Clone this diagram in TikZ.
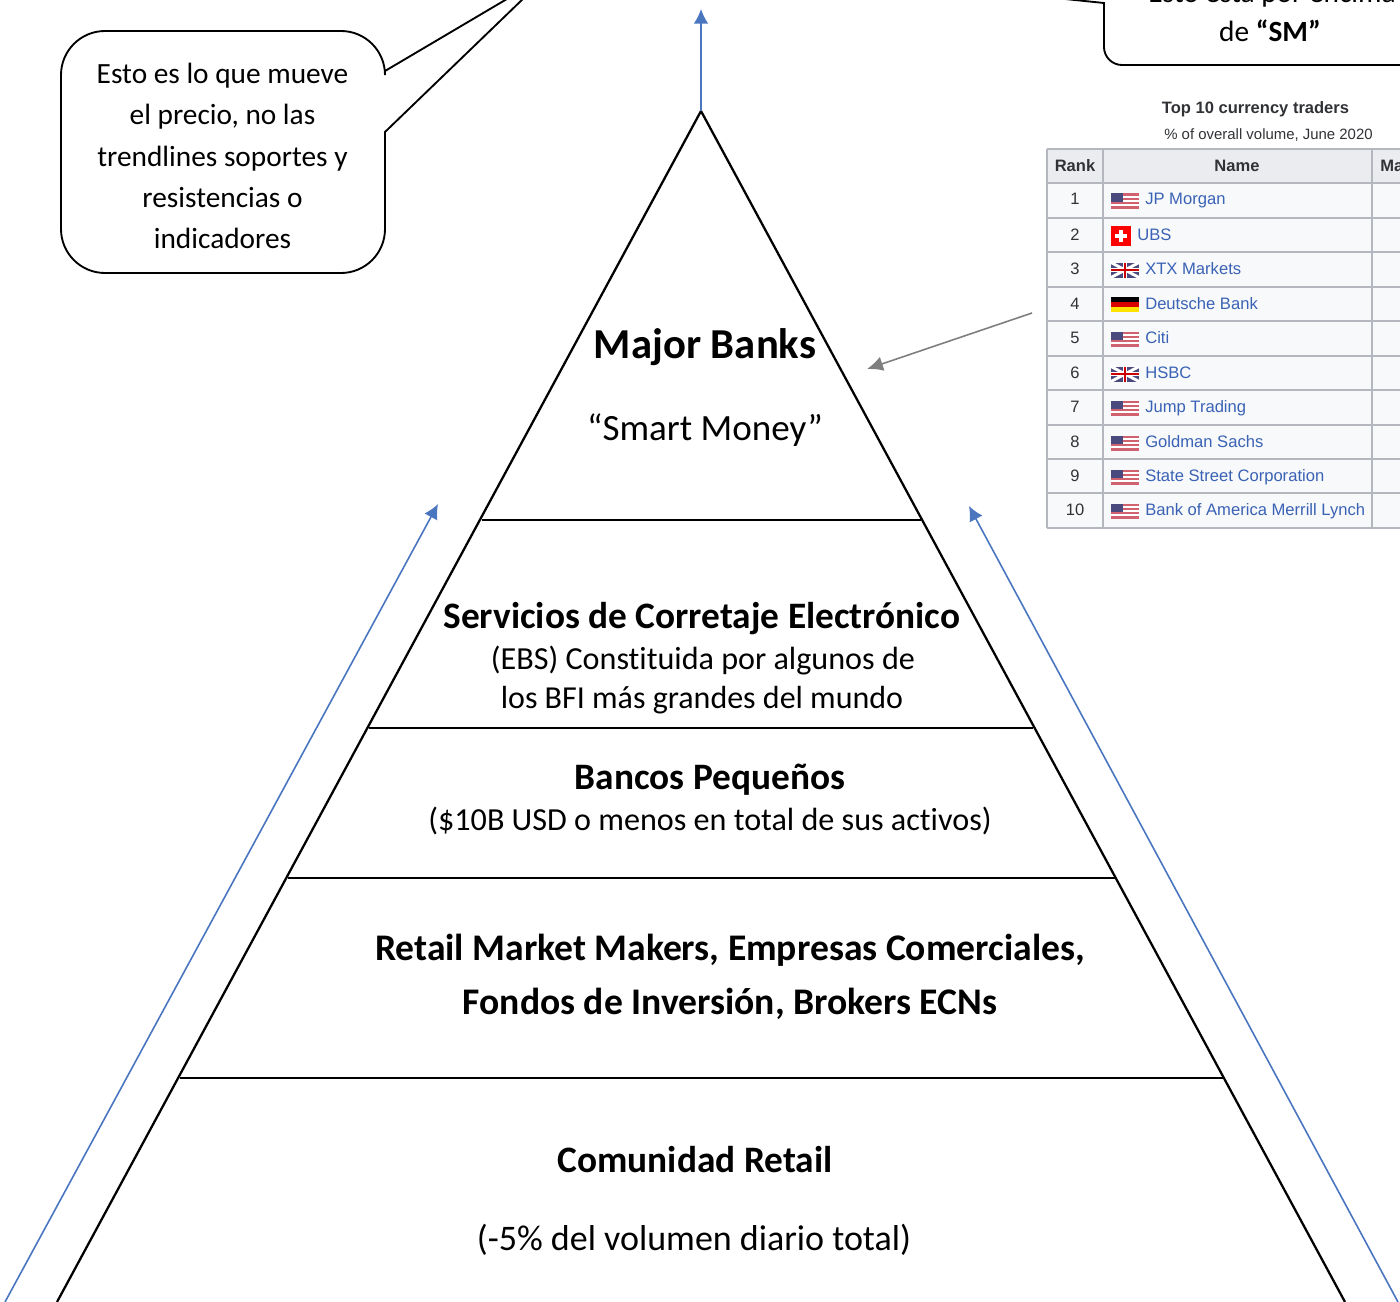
\documentclass[tikz,border=0pt]{standalone}
\usepackage{fontspec}
\usepackage{tikz}
\usetikzlibrary{arrows.meta}
\setmainfont[Ligatures=NoCommon]{Carlito}
\newfontfamily\wikifont{Liberation Sans}
\definecolor{arrowblue}{HTML}{4A76C0}
\definecolor{arrowgray}{HTML}{7F7F7F}
\definecolor{wikiline}{HTML}{B4B8BE}
\definecolor{wikihead}{HTML}{EAECF0}
\definecolor{wikicell}{HTML}{F8F9FA}
\definecolor{wikilink}{HTML}{3A62B5}
\definecolor{wikitext}{HTML}{303236}
\definecolor{flagblue}{HTML}{4A4A7E}
\definecolor{flagred}{HTML}{D0626F}

\begin{document}
\begin{tikzpicture}[x=0.75pt, y=-0.75pt]
  % -----------------------------
  % STYLES
  % -----------------------------
  \tikzset{
    slope/.style={line width=1.7pt, black},
    level/.style={line width=1.2pt, black},
    callout/.style={line width=1.4pt, black, fill=white},
    blueline/.style={arrowblue, line width=1.2pt, -{Latex[length=11pt,width=11pt]}},
    grayline/.style={arrowgray, line width=1.2pt, -{Latex[length=12pt,width=11pt]}},
    txt/.style={anchor=base, inner sep=0pt, font=\fontsize{#1}{#1}\selectfont},
    txt/.default={24},
    big/.style={anchor=base, inner sep=0pt, font=\fontsize{#1}{#1}\selectfont\bfseries},
    note/.style={anchor=base, inner sep=0pt, font=\fontsize{22}{22}\selectfont},
    wikihd/.style={anchor=base, inner sep=0pt, text=wikitext, font=\wikifont\fontsize{12.4}{12.4}\selectfont\bfseries},
    wikirk/.style={anchor=base, inner sep=0pt, text=wikitext, font=\wikifont\fontsize{12.4}{12.4}\selectfont},
    wikinm/.style={anchor=base west, inner sep=0pt, text=wikilink, font=\wikifont\fontsize{12.45}{12.45}\selectfont},
    flagus/.pic={
      \fill[white] (0,-7.5) rectangle (28,7.5);
      \foreach \k in {0,2,4,6} { \fill[flagred] (0,{-7.5+\k*2.15}) rectangle (28,{-7.5+(\k+1)*2.15}); }
      \fill[flagblue] (0,-7.5) rectangle (12,1);
    },
    flaguk/.pic={
      \fill[flagblue] (0,-7.5) rectangle (28,7.5);
      \draw[white, line width=2.2pt] (0,-7.5) -- (28,7.5) (0,7.5) -- (28,-7.5);
      \draw[white, line width=3.2pt] (14,-7.5) -- (14,7.5) (0,0) -- (28,0);
      \draw[red!80!black, line width=1.8pt] (14,-7.5) -- (14,7.5) (0,0) -- (28,0);
    },
    flagde/.pic={
      \fill[black] (0,-8) rectangle (28,-3);
      \fill[red!85!black] (0,-3) rectangle (28,2);
      \fill[yellow!85!orange] (0,2) rectangle (28,7);
    },
    flagch/.pic={
      \fill[red] (0,-10) rectangle (20,10);
      \fill[white] (4,-2) rectangle (16,2);
      \fill[white] (8,-6) rectangle (12,6);
    },
  }

  \useasboundingbox (0,0) rectangle (1400,1302);
  \clip (0,0) rectangle (1400,1302);

  % -----------------------------
  % PYRAMID
  % -----------------------------
  \coordinate (apex) at (701,111);
  \coordinate (baseL) at (57,1302);
  \coordinate (baseR) at (1345,1302);
  \draw[slope] (baseL) -- (apex) -- (baseR);

  \foreach \name/\xa/\xb/\yy in {a/482/921/520, b/369/1033/728, c/288/1115/878, d/180/1223/1078} {
    \coordinate (\name L) at (\xa,\yy);
    \coordinate (\name R) at (\xb,\yy);
    \draw[level] (\name L) -- (\name R);
  }

  % Level labels
  \node[big=32] (major) at (705,358.5) {Major Banks};
  \node[txt=27.8] (smart) at (705,440) {“Smart Money”};
  \node[big=28] (ebstitle) at (702,628) {Servicios de Corretaje Electrónico};
  \node[txt=24.1] (ebsa) at (703,669) {(EBS) Constituida por algunos de};
  \node[txt] (ebsb) at (702,708) {los BFI más grandes del mundo};
  \node[big=28] (small) at (710,789) {Bancos Pequeños};
  \node[txt=24.1] (smallnote) at (710,830) {(\$10B USD o menos en total de sus activos)};
  \node[big=28.2] (makers) at (730,960.5) {Retail Market Makers, Empresas Comerciales,};
  \node[big=28.2] (funds) at (730,1014) {Fondos de Inversión, Brokers ECNs};
  \node[big=28] (retail) at (695,1172.5) {Comunidad Retail};
  \node[txt=27] (volume) at (694,1250.5) {(-5\% del volumen diario total)};

  % -----------------------------
  % ARROWS
  % -----------------------------
  \coordinate (topend) at (701,9);
  \coordinate (leftstart) at (5,1302);
  \coordinate (leftend) at (438,504);
  \coordinate (rightstart) at (1398,1302);
  \coordinate (rightend) at (969,506);
  \coordinate (tablept) at (1032,313);
  \coordinate (bankspt) at (867,369);
  \draw[blueline] (apex) -- (topend);
  \draw[blueline] (leftstart) -- (leftend);
  \draw[blueline] (rightstart) -- (rightend);
  \draw[grayline] (tablept) -- (bankspt);

  % -----------------------------
  % CALLOUTS
  % -----------------------------
  \draw[callout] (105,31) -- (341,31) arc[start angle=-90, end angle=0, radius=44]
    -- (385,71) -- (512,-4) -- (526,-4) -- (385,132) -- (385,229)
    arc[start angle=0, end angle=90, radius=44] -- (105,273)
    arc[start angle=90, end angle=180, radius=44] -- (61,75)
    arc[start angle=180, end angle=270, radius=44] -- cycle;
  \foreach \line/\yy in {Esto es lo que mueve/83.5, el precio{,} no las/124.5, trendlines soportes y/166.5, resistencias o/207.5, indicadores/248.5} {
    \node[note] at (222.5,\yy) {\line};
  }

  \draw[callout] (1420,65) -- (1122,65) arc[start angle=90, end angle=180, radius=18]
    -- (1104,3) -- (1065,-1) -- (1065,-10) -- (1420,-10);
  \node[note] (above) at (1272,3) {Esto está por encima};
  \node[note] (desm) at (1270,42) {de \textbf{“SM”}};

  % -----------------------------
  % TABLE
  % -----------------------------
  \node[wikihd] (tabtitle) at (1255.5,113.5) {Top 10 currency traders};
  \node[anchor=base, inner sep=0pt, text=wikitext, font=\wikifont\fontsize{11.2}{11.2}\selectfont] (tabsub) at (1268.5,140) {\% of overall volume, June 2020};

  \fill[wikicell] (1047,149) rectangle (1400,528);
  \fill[wikihead] (1047,149) rectangle (1400,183);
  \draw[wikiline, line width=0.9pt] (1047,149) -- (1400,149);
  \draw[wikiline, line width=0.9pt] (1047,149) -- (1047,528);
  \draw[wikiline, line width=0.9pt] (1103,149) -- (1103,528);
  \draw[wikiline, line width=0.9pt] (1372,149) -- (1372,528);
  \draw[wikiline, line width=0.9pt] (1047,528) -- (1400,528);

  \node[wikihd] (rankhd) at (1075,171.5) {Rank};
  \node[wikihd] (namehd) at (1237,171.5) {Name};
  \node[wikihd, anchor=base west] (mahd) at (1380,171.5) {Ma};

  % rank / top of row / flag / text start / name
  \foreach \r/\yy/\f/\xt/\bank in {
    1/183/flagus/1145/JP Morgan,
    2/218/flagch/1137/UBS,
    3/252/flaguk/1145/XTX Markets,
    4/287/flagde/1145/Deutsche Bank,
    5/321/flagus/1145/Citi,
    6/356/flaguk/1145/HSBC,
    7/390/flagus/1145/Jump Trading,
    8/425/flagus/1145/Goldman Sachs,
    9/459/flagus/1145/State Street Corporation,
    10/493/flagus/1145/Bank of America Merrill Lynch} {
    \draw[wikiline, line width=0.9pt] (1047,\yy) -- (1400,\yy);
    \pgfmathsetmacro{\yt}{\yy+22}
    \pgfmathsetmacro{\yf}{\yy+18}
    \node[wikirk] (rank\r) at (1075,\yt) {\r};
    \pic at (1111,\yf) {\f};
    \node[wikinm] (bank\r) at (\xt,\yt) {\bank};
  }
\end{tikzpicture}
\end{document}
